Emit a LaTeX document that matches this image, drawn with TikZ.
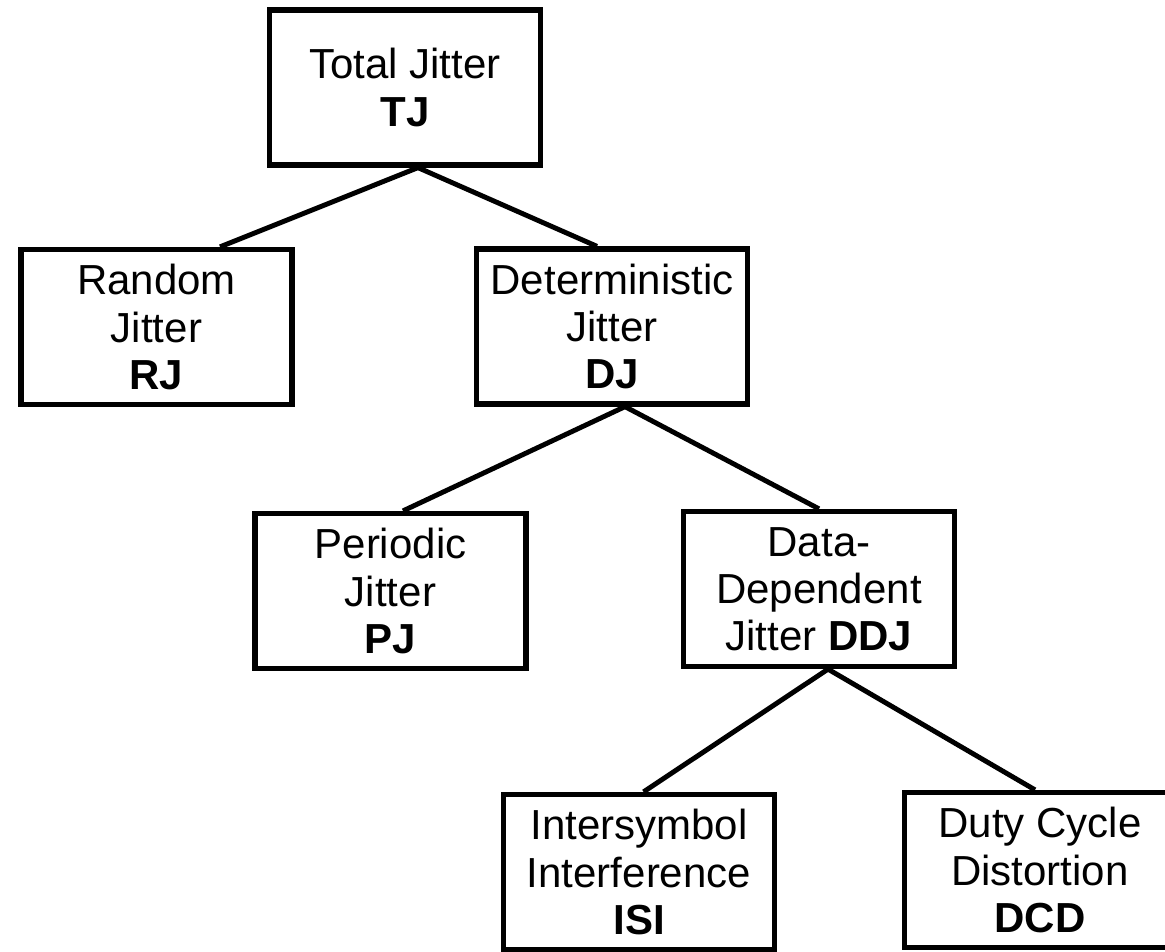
\documentclass[tikz,border=0pt]{standalone}
\usepackage{fontspec}
\setmainfont{Liberation Sans}
\usepackage{xcolor}

\begin{document}
\begin{tikzpicture}[
        jbox/.style={draw,line width=3pt,minimum width=5.42cm,minimum height=3.1cm,align=center,inner sep=0pt,font=\fontsize{23.9}{26.8}\selectfont},
        link/.style={line width=2.8pt}]
        \useasboundingbox (0,0) rectangle (23.3,-19.02);
        \clip (0,0) rectangle (23.3,-19.02);
        \node[jbox] (TJ) at (8.10,-1.75) {Total Jitter\\\textbf{TJ}};
        \node[jbox] (RJ) at (3.13,-6.54) {Random\\Jitter\\\textbf{RJ}};
        \node[jbox] (DJ) at (12.24,-6.53) {Deterministic\\Jitter\\\textbf{DJ}};
        \node[jbox] (PJ) at (7.81,-11.82) {Periodic\\Jitter\\\textbf{PJ}};
        \node[jbox] (DDJ) at (16.38,-11.78) {Data-\\Dependent\\Jitter \textbf{DDJ}};
        \node[jbox] (ISI) at (12.78,-17.44) {Intersymbol\\Interference\\\textbf{ISI}};
        \node[jbox] (DCD) at (20.80,-17.40) {Duty Cycle\\Distortion\\\textbf{DCD}};
        \draw[link] ([xshift=0.26cm]TJ.south) -- ([xshift=1.27cm]RJ.north);
        \draw[link] ([xshift=0.26cm]TJ.south) -- ([xshift=-0.3cm]DJ.north);
        \draw[link] ([xshift=0.26cm]DJ.south) -- ([xshift=0.25cm]PJ.north);
        \draw[link] ([xshift=0.26cm]DJ.south) -- (DDJ.north);
        \draw[link] ([xshift=0.18cm]DDJ.south) -- ([xshift=0.09cm]ISI.north);
        \draw[link] ([xshift=0.18cm]DDJ.south) -- ([xshift=-0.1cm]DCD.north);
\end{tikzpicture}
\end{document}
